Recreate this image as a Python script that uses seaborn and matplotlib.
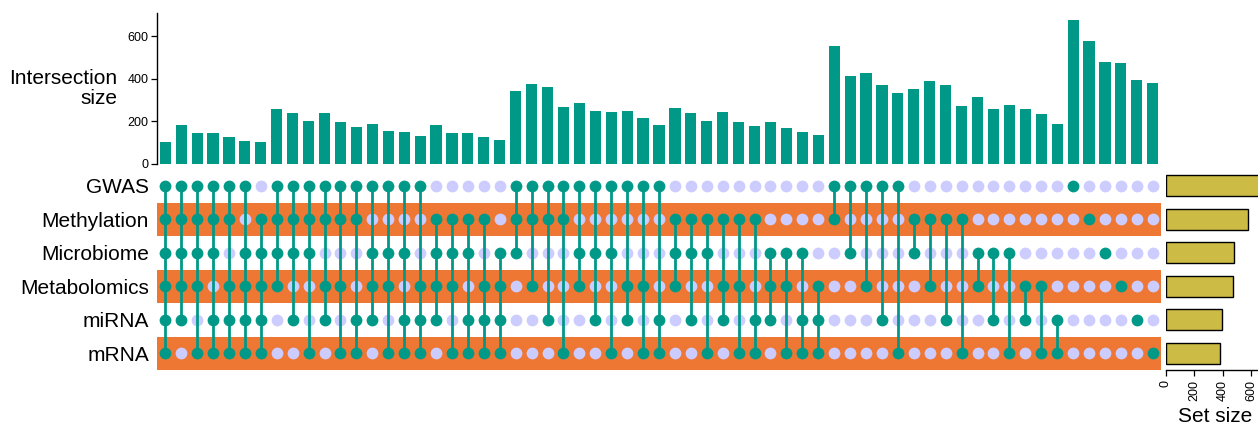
import itertools

import matplotlib
matplotlib.use("Agg")
import matplotlib.pyplot as plt
import numpy as np
import pandas as pd
import seaborn as sns

# ---- data -------------------------------------------------------------
set_names = ["GWAS", "Methylation", "Microbiome", "Metabolomics", "miRNA", "mRNA"]
set_sizes = [676, 577, 480, 472, 392, 378]

# every combination of the six sets, largest degree first
intersections = [
    combo
    for degree in range(len(set_names), 0, -1)
    for combo in itertools.combinations(range(len(set_names)), degree)
]

intersection_sizes = [
    102,                                   # all six
    180, 143, 143, 124, 107, 104,          # five sets
    256, 237, 199, 237, 195, 174, 187, 154, 147, 129, 182, 144, 144, 125, 111,  # four sets
    342, 373, 359, 267, 287, 248, 241, 248, 216, 180,
    264, 238, 201, 245, 198, 177, 195, 166, 151, 133,                          # three sets
    555, 414, 428, 372, 331, 351, 387, 372, 271, 312, 256, 278, 259, 232, 187,  # two sets
    676, 577, 480, 472, 392, 378,          # single sets
]

# ---- style ------------------------------------------------------------
TEAL = "#009988"
ORANGE = "#EE7733"
LAVENDER = "#CCCCFF"
MUSTARD = "#CCBB44"

sns.set_style("ticks")
plt.rcParams["font.family"] = ["Liberation Sans", "DejaVu Sans"]
plt.rcParams.update({
    "xtick.labelsize": 9,
    "ytick.labelsize": 9,
    "text.color": "black",
    "axes.labelcolor": "black",
    "axes.edgecolor": "black",
    "xtick.color": "black",
    "ytick.color": "black",
})

W, H = 1258, 425
fig = plt.figure(figsize=(W / 100, H / 100), dpi=100)


def px_axes(left, top, right, bottom):
    return fig.add_axes([left / W, 1 - bottom / H, (right - left) / W, (bottom - top) / H])


ax_bar = px_axes(157.3, 13, 1160.7, 163.7)
ax_mat = px_axes(157.3, 169, 1160.7, 370)
ax_set = px_axes(1165.7, 169, 1265.5, 370)

n_int = len(intersections)
n_set = len(set_names)

# ---- intersection size bars -------------------------------------------
bar_df = pd.DataFrame({"idx": np.arange(n_int), "size": intersection_sizes})
sns.barplot(data=bar_df, x="idx", y="size", color=TEAL, width=0.7,
            saturation=1, linewidth=0, ax=ax_bar)
ax_bar.set_xlim(-0.5, n_int - 0.5)
ax_bar.set_ylim(0, 709)
ax_bar.set_yticks([0, 200, 400, 600])
ax_bar.set_xticks([])
ax_bar.set_xlabel("")
ax_bar.set_ylabel("Intersection\nsize", rotation=0, ha="right", va="center",
                  multialignment="right", fontsize=15, linespacing=1.1)
ax_bar.yaxis.set_label_coords(-0.040, 0.5)
for side in ("top", "right", "bottom"):
    ax_bar.spines[side].set_visible(False)
ax_bar.spines["left"].set_linewidth(1.0)
ax_bar.tick_params(axis="y", length=4.5, width=0.9, pad=2)

# ---- membership matrix --------------------------------------------------
for row in range(1, n_set, 2):
    ax_mat.axhspan(row - 0.5, row + 0.5, color=ORANGE, lw=0, zorder=0)

cells = pd.DataFrame(
    [(c, r, r in combo) for c, combo in enumerate(intersections) for r in range(n_set)],
    columns=["col", "row", "member"],
)
sns.scatterplot(data=cells[~cells["member"]], x="col", y="row", color=LAVENDER,
                s=72, linewidth=0, ax=ax_mat, zorder=2)
for c, combo in enumerate(intersections):
    if len(combo) > 1:
        ax_mat.plot([c, c], [min(combo), max(combo)], color=TEAL, lw=2.0,
                    solid_capstyle="butt", zorder=3)
sns.scatterplot(data=cells[cells["member"]], x="col", y="row", color=TEAL,
                s=72, linewidth=0, ax=ax_mat, zorder=4)

ax_mat.set_xlim(-0.5, n_int - 0.5)
ax_mat.set_ylim(n_set - 0.5, -0.5)
ax_mat.set_xticks([])
ax_mat.set_yticks(range(n_set))
ax_mat.set_yticklabels(set_names, fontsize=15)
ax_mat.tick_params(axis="y", length=0, pad=6)
ax_mat.set_xlabel("")
ax_mat.set_ylabel("")
for side in ax_mat.spines:
    ax_mat.spines[side].set_visible(False)

# ---- set size bars -------------------------------------------------------
set_df = pd.DataFrame({"set": set_names, "size": set_sizes})
sns.barplot(data=set_df, y="set", x="size", orient="h", color=MUSTARD,
            saturation=1, width=0.63, edgecolor="black", linewidth=1.0, ax=ax_set)
ax_set.set_ylim(n_set - 0.5, -0.5)
ax_set.set_xlim(0, 700)
ax_set.set_xticks([0, 200, 400, 600])
ax_set.tick_params(axis="x", rotation=90, length=4.5, width=0.9, pad=3)
ax_set.set_yticks([])
ax_set.set_ylabel("")
ax_set.set_xlabel("Set size", fontsize=15, labelpad=4)
for side in ("top", "right", "left"):
    ax_set.spines[side].set_visible(False)
ax_set.spines["bottom"].set_linewidth(1.0)

fig.savefig("out.png", dpi=100)
